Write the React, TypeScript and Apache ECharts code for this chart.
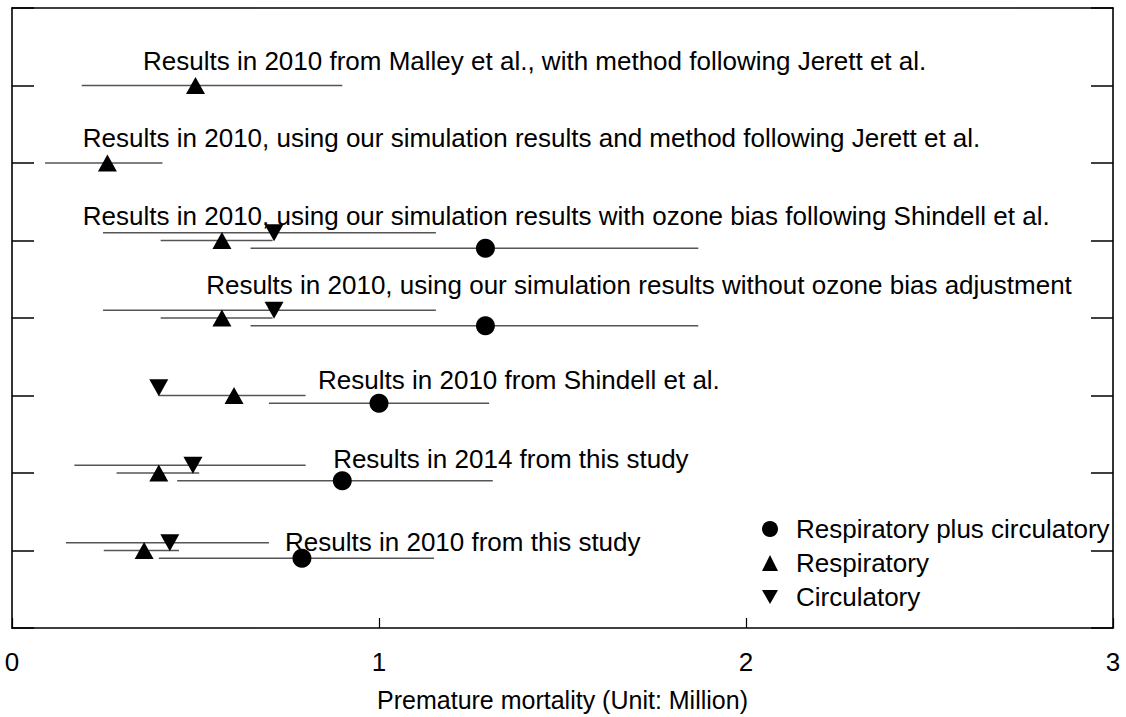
import React, { useEffect, useRef } from "react";
import * as echarts from "echarts";

// Row positions on the y axis (1 = bottom row)
const rows = [1, 2, 3, 4, 5, 6, 7];
const rowLabels = [
  "Results in 2010 from this study",
  "Results in 2014 from this study",
  "Results in 2010 from Shindell et al.",
  "Results in 2010, using our simulation results without ozone bias adjustment",
  "Results in 2010, using our simulation results with ozone bias following Shindell et al.",
  "Results in 2010, using our simulation results and method following Jerett et al.",
  "Results in 2010 from Malley et al., with method following Jerett et al.",
];

// Respiratory plus circulatory (circle)
const totalVal = [0.79, 0.9, 1.0, 1.29, 1.29, null, null];
const totalLow = [0.4, 0.45, 0.7, 0.65, 0.65, null, null];
const totalHigh = [1.15, 1.31, 1.3, 1.87, 1.87, null, null];

// Respiratory (up triangle)
const respVal = [0.36, 0.4, 0.605, 0.572, 0.572, 0.26, 0.5];
const respLow = [0.25, 0.285, 0.4, 0.405, 0.405, 0.09, 0.19];
const respHigh = [0.455, 0.51, 0.8, 0.71, 0.71, 0.41, 0.9];

// Circulatory (down triangle)
const circVal = [0.43, 0.493, 0.4, 0.714, 0.714, null, null];
const circLow = [0.147, 0.17, null, 0.248, 0.248, null, null];
const circHigh = [0.7, 0.8, null, 1.155, 1.155, null, null];

const xTicks = [0, 1, 2, 3];
const seriesNames = ["Respiratory plus circulatory", "Respiratory", "Circulatory"];

// label anchors (value coordinates)
const labelX = [0.744, 0.875, 0.834, 0.529, 0.193, 0.193, 0.357];
const labelY = [1.11, 2.18, 3.2, 4.43, 5.32, 6.32, 7.32];

const FONT = "'Liberation Sans', Arial, sans-serif";
const FS = 26;

export default function App() {
  const ref = useRef<HTMLDivElement>(null);
  useEffect(() => {
    const chart = echarts.init(ref.current!, null, { renderer: "svg" });

    const offTotal = -0.1;
    const offResp = 0;
    const offCirc = 0.1;

    const errSeries = (low: (number | null)[], high: (number | null)[], off: number) => ({
      type: "custom",
      silent: true,
      z: 1,
      renderItem: (params: any, api: any) => {
        const lo = api.value(0);
        const hi = api.value(1);
        const y = api.value(2);
        const p1 = api.coord([lo, y]);
        const p2 = api.coord([hi, y]);
        return {
          type: "line",
          shape: { x1: p1[0], y1: p1[1], x2: p2[0], y2: p2[1] },
          style: { stroke: "#555", lineWidth: 1.3 },
        };
      },
      data: rows
        .map((r, i) => (low[i] == null ? null : [low[i], high[i], r + off]))
        .filter((d) => d != null),
    });

    const pts = (vals: (number | null)[], off: number) =>
      rows.map((r, i) => (vals[i] == null ? null : [vals[i], r + off])).filter((d) => d != null);

    const downPath = "path://M0,0L20,0L10,17.32Z";

    const axisLine = { show: true, onZero: false, lineStyle: { color: "#000", width: 1.6 } };

    chart.setOption({
      animation: false,
      backgroundColor: "#fff",
      textStyle: { fontFamily: FONT },
      grid: { left: 12, right: 13, top: 8, bottom: 89, show: false },
      legend: {
        orient: "vertical",
        left: 757,
        top: 511,
        itemGap: 8,
        itemWidth: 16,
        itemHeight: 16,
        data: [
          { name: seriesNames[0], icon: "circle" },
          { name: seriesNames[1], icon: "triangle" },
          { name: seriesNames[2], icon: downPath },
        ],
        textStyle: { fontSize: FS, color: "#000", fontFamily: FONT, padding: [0, 0, 0, 13] },
        itemStyle: { color: "#000", opacity: 1 },
      },
      xAxis: [
        {
          type: "value",
          min: xTicks[0],
          max: xTicks[xTicks.length - 1],
          interval: 1,
          position: "bottom",
          axisLine,
          axisTick: { show: true, inside: true, length: 10, lineStyle: { color: "#000", width: 1.2 } },
          axisLabel: { fontSize: FS, color: "#000", margin: 21, fontFamily: FONT },
          splitLine: { show: false },
          name: "Premature mortality (Unit: Million)",
          nameLocation: "middle",
          nameGap: 59,
          nameTextStyle: { fontSize: 25, color: "#000", fontFamily: FONT },
        },
        {
          type: "value",
          min: 0,
          max: 3,
          interval: 1,
          position: "top",
          axisLine,
          axisTick: { show: false },
          axisLabel: { show: false },
          splitLine: { show: false },
        },
      ],
      yAxis: [
        {
          type: "value",
          min: 0,
          max: 8,
          interval: 1,
          position: "left",
          axisLine,
          axisTick: { show: true, inside: true, length: 22, lineStyle: { color: "#000", width: 1.5 } },
          axisLabel: { show: false },
          splitLine: { show: false },
        },
        {
          type: "value",
          min: 0,
          max: 8,
          interval: 1,
          position: "right",
          axisLine,
          axisTick: { show: true, inside: true, length: 22, lineStyle: { color: "#000", width: 1.5 } },
          axisLabel: { show: false },
          splitLine: { show: false },
        },
      ],
      series: [
        errSeries(totalLow, totalHigh, offTotal),
        errSeries(respLow, respHigh, offResp),
        errSeries(circLow, circHigh, offCirc),
        {
          name: seriesNames[0],
          type: "scatter",
          symbol: "circle",
          symbolSize: 19,
          itemStyle: { color: "#000", opacity: 1 },
          z: 3,
          data: pts(totalVal, offTotal),
        },
        {
          name: seriesNames[1],
          type: "scatter",
          symbol: "triangle",
          symbolSize: [19, 17],
          itemStyle: { color: "#000", opacity: 1 },
          z: 3,
          data: pts(respVal, offResp),
        },
        {
          name: seriesNames[2],
          type: "scatter",
          symbol: "triangle",
          symbolRotate: 180,
          symbolSize: [19, 17],
          itemStyle: { color: "#000", opacity: 1 },
          z: 3,
          data: pts(circVal, offCirc),
        },
        {
          type: "scatter",
          silent: true,
          symbolSize: 0,
          z: 4,
          itemStyle: { opacity: 1 },
          data: rows.map((r, i) => ({ value: [labelX[i], labelY[i]], name: rowLabels[i] })),
          label: {
            show: true,
            position: "right",
            distance: 0,
            formatter: (p: any) => p.name,
            fontSize: FS,
            color: "#000",
            fontFamily: FONT,
          },
        },
      ],
    });
    return () => chart.dispose();
  }, []);
  return (
    <div
      ref={ref}
      style={{ position: "absolute", left: 0, top: 0, width: 1126, height: 717 }}
    />
  );
}
